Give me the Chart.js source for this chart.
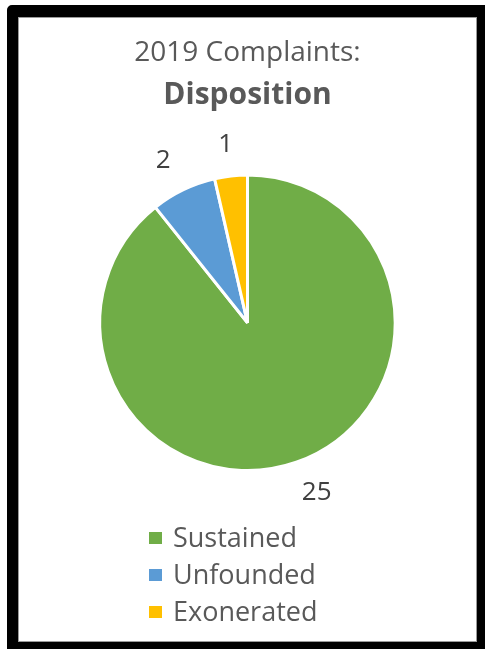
<!DOCTYPE html>
<html>
<head>
<meta charset="utf-8">
<script src="https://cdn.jsdelivr.net/npm/chart.js@4.4.0/dist/chart.umd.min.js"></script>
<style>
  body { margin: 0; background: #fff; }
  #frame {
    position: absolute; left: 7px; top: 5px;
    width: 459px; height: 625px;
    border-style: solid; border-color: #000;
    border-width: 12px 8px 7px 11px;
    border-top-left-radius: 5px;
    box-shadow: inset 0 0 0 1px #9a9a9a;
    background: #fff;
  }
  #box { position: relative; width: 459px; height: 625px; }
</style>
</head>
<body>
<div id="frame"><div id="box"><canvas id="pie"></canvas></div></div>
<script>
// chart data
var categories = ['Sustained', 'Unfounded', 'Exonerated'];
var counts = [25, 2, 1];
var colours = ['#70AD47', '#5B9BD5', '#FFC000'];

var FONT = "'Open Sans', 'Noto Sans', sans-serif";

// value labels just outside each slice
var outsideLabels = {
  id: 'outsideLabels',
  afterDatasetsDraw(chart) {
    var ctx = chart.ctx;
    var meta = chart.getDatasetMeta(0);
    ctx.save();
    ctx.font = '26px ' + FONT;
    ctx.fillStyle = '#404040';
    ctx.textAlign = 'center';
    ctx.textBaseline = 'middle';
    meta.data.forEach(function(arc, i) {
      var p = arc.getProps(['x', 'y', 'startAngle', 'endAngle', 'outerRadius'], true);
      var mid = (p.startAngle + p.endAngle) / 2;
      var txt = String(counts[i]);
      var w = ctx.measureText(txt).width;
      var d = p.outerRadius + 32;
      ctx.fillText(txt, p.x + Math.cos(mid) * (d + w), p.y + Math.sin(mid) * d);
    });
    ctx.restore();
  }
};

// vertical legend under the pie
var listLegend = {
  id: 'listLegend',
  afterDraw(chart) {
    var ctx = chart.ctx;
    ctx.save();
    ctx.font = '27px ' + FONT;
    ctx.textBaseline = 'middle';
    ctx.textAlign = 'left';
    for (var i = 0; i < categories.length; i++) {
      var y = 521 + i * 37;
      ctx.fillStyle = colours[i];
      ctx.fillRect(131, y - 6, 13, 12);
      ctx.fillStyle = '#595959';
      ctx.fillText(categories[i], 155, y + 1);
    }
    ctx.restore();
  }
};

var ctx = document.getElementById('pie').getContext('2d');
var myChart = new Chart(ctx, {
  type: 'pie',
  data: {
    labels: categories,
    datasets: [{
      data: counts,
      backgroundColor: colours,
      borderColor: '#ffffff',
      borderWidth: 3
    }]
  },
  options: {
    responsive: true,
    maintainAspectRatio: false,
    animation: false,
    layout: { padding: { top: 0, bottom: 170, left: 0, right: 0 } },
    plugins: {
      legend: { display: false },
      tooltip: { enabled: false },
      title: {
        display: true,
        text: '2019 Complaints:',
        color: '#595959',
        font: { family: FONT, size: 28, weight: 'normal' },
        padding: { top: 19, bottom: 0 }
      },
      subtitle: {
        display: true,
        text: 'Disposition',
        color: '#595959',
        font: { family: FONT, size: 30, weight: 'bold' },
        padding: { top: 8, bottom: 60 }
      }
    }
  },
  plugins: [outsideLabels, listLegend]
});
</script>
</body>
</html>
